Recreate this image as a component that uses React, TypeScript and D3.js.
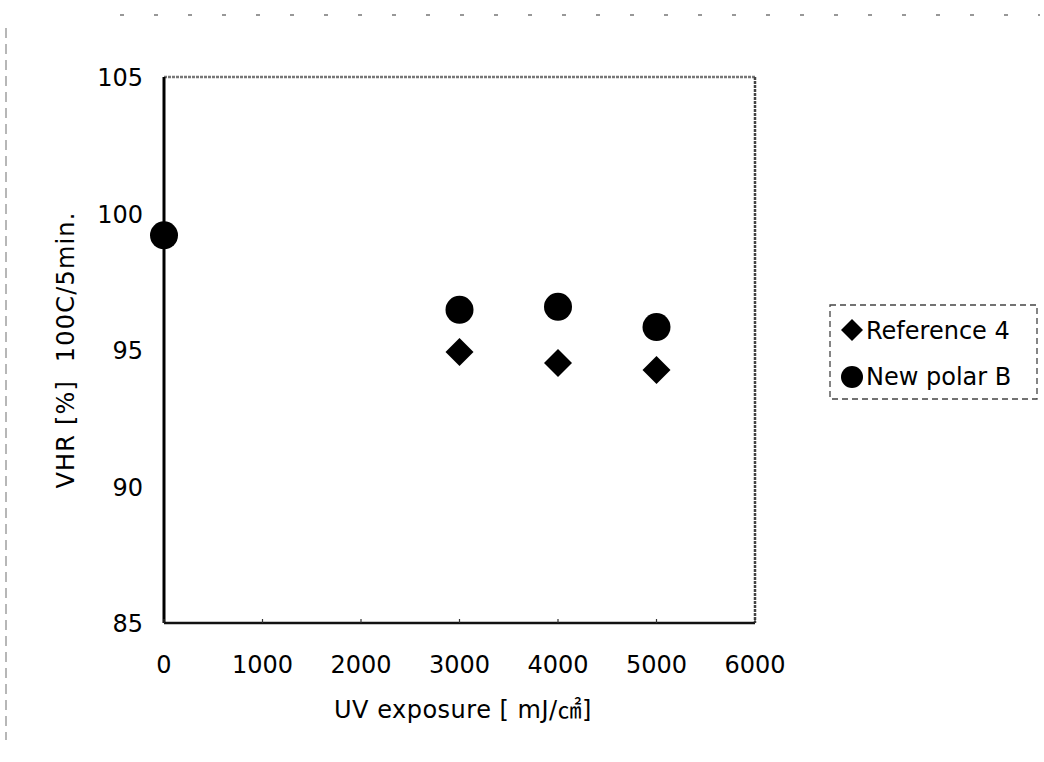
import React from "react";
import * as d3 from "d3";

const refExposure = [3000, 4000, 5000];
const refVHR = [94.93, 94.52, 94.27];
const polarExposure = [0, 3000, 4000, 5000];
const polarVHR = [99.2, 96.47, 96.58, 95.84];
const xTicks = [0, 1000, 2000, 3000, 4000, 5000, 6000];
const yTicks = [85, 90, 95, 100, 105];
const seriesNames = ["Reference 4", "New polar B"];
const xTitle = "UV exposure [\u00a0mJ/㎠]";
const yTitle = "VHR [%]\u00a0\u00a0100C/5min.";

const W = 1044;
const H = 762;
const left = 164, right = 755, top = 77, bottom = 623;
const font = "'DejaVu Sans', 'Noto Sans CJK KR', sans-serif";

export default function App() {
  const x = d3.scaleLinear().domain([0, 6000]).range([left, right]);
  const y = d3.scaleLinear().domain([85, 105]).range([bottom, top]);
  const diamond = (cx: number, cy: number, r: number) =>
    `M${cx},${cy - r}L${cx + r},${cy}L${cx},${cy + r}L${cx - r},${cy}Z`;

  return (
    <svg width={W} height={H} style={{ position: "absolute", left: 0, top: 0, background: "#fff" }} fontFamily={font}>
      <rect x={0} y={0} width={W} height={H} fill="#fff" />
      {/* scan artifacts */}
      <line x1={120} x2={1040} y1={15} y2={15} stroke="#777" strokeWidth={1.5} strokeDasharray="4 30" />
      <line x1={6} x2={6} y1={28} y2={740} stroke="#888" strokeWidth={1.2} strokeDasharray="10 6" />

      {/* plot borders */}
      <line x1={left} x2={right} y1={top} y2={top} stroke="#777" strokeWidth={2.5} strokeDasharray="3 1" />
      <line x1={right} x2={right} y1={top} y2={bottom} stroke="#444" strokeWidth={2.5} strokeDasharray="3 1" />
      <line x1={left} x2={right} y1={bottom} y2={bottom} stroke="#111" strokeWidth={2.5} />
      <line x1={left} x2={left} y1={top} y2={bottom} stroke="#000" strokeWidth={3} />

      {/* x ticks */}
      {xTicks.map((t) => (
        <g key={"x" + t}>
          <line x1={x(t)} x2={x(t)} y1={bottom} y2={bottom - 4} stroke="#333" strokeWidth={1.2} />
          <text x={x(t)} y={673} textAnchor="middle" fontSize={24} fill="#000">
            {t}
          </text>
        </g>
      ))}
      {/* y ticks */}
      {yTicks.map((t) => (
        <text key={"y" + t} x={143} y={y(t) + 9} textAnchor="end" fontSize={24} fill="#000">
          {t}
        </text>
      ))}

      {/* titles */}
      <text x={463} y={718} textAnchor="middle" fontSize={24} fill="#000" letterSpacing={0.5}>
        {xTitle}
      </text>
      <text
        transform={`translate(74,350) rotate(-90)`}
        textAnchor="middle"
        fontSize={24}
        fill="#000"
        letterSpacing={1.2}
      >
        {yTitle}
      </text>

      {/* data */}
      {refExposure.map((e, i) => (
        <path key={"r" + i} d={diamond(x(e), y(refVHR[i]), 14)} fill="#000" />
      ))}
      {polarExposure.map((e, i) => (
        <circle key={"p" + i} cx={x(e)} cy={y(polarVHR[i])} r={14} fill="#000" />
      ))}

      {/* legend */}
      <rect x={830} y={305} width={207} height={94} fill="none" stroke="#444" strokeWidth={1.3} strokeDasharray="6 4" />
      <path d={diamond(852, 330, 11)} fill="#000" />
      <circle cx={852} cy={377} r={11} fill="#000" />
      <text x={866} y={339} fontSize={24} fill="#000">{seriesNames[0]}</text>
      <text x={866} y={385} fontSize={24} fill="#000">{seriesNames[1]}</text>
    </svg>
  );
}
